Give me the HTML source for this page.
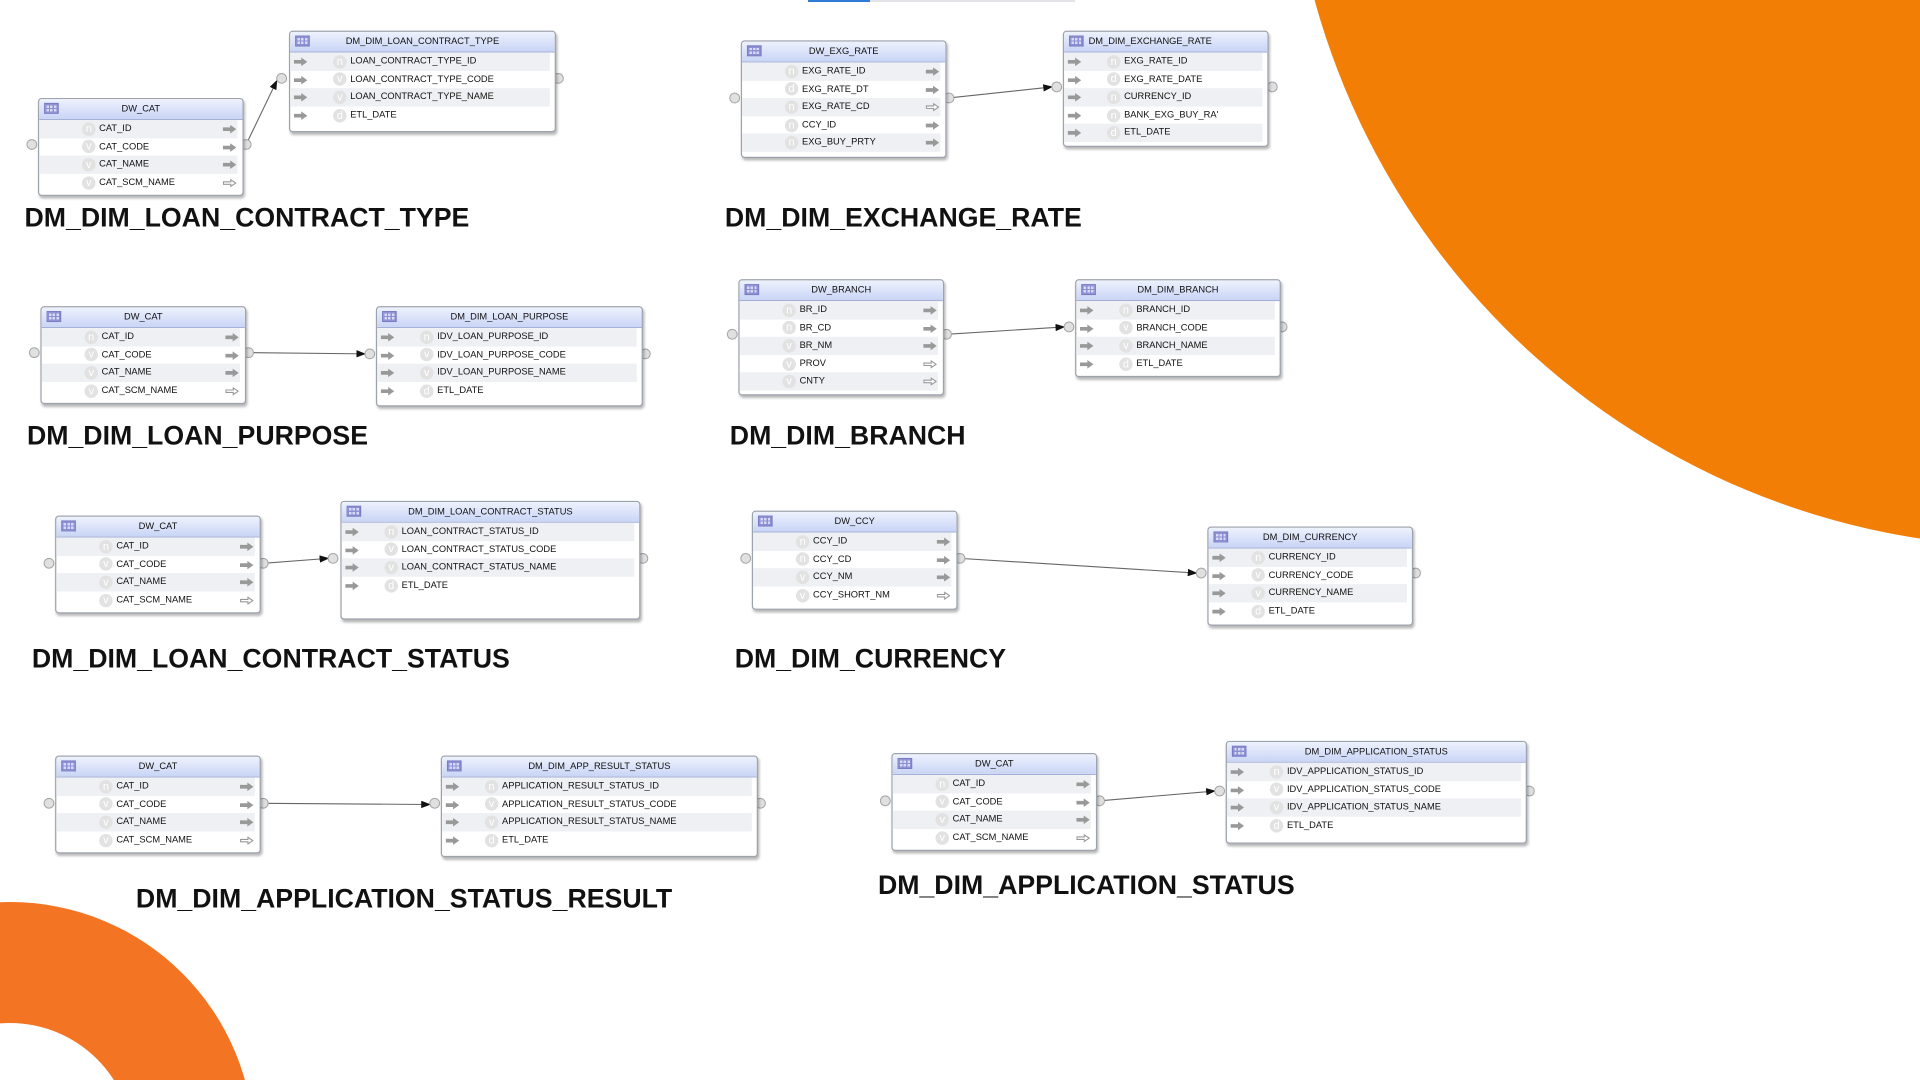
<!DOCTYPE html>
<html><head><meta charset="utf-8"><style>
html,body{margin:0;padding:0;background:#fff;width:1920px;height:1080px;overflow:hidden}
#wrap{position:relative;width:1920px;height:1080px;overflow:hidden}
#bg{position:absolute;left:0;top:0}
#s{position:absolute;left:0;top:0;width:1568px;height:870px;transform:scale(1.22449);transform-origin:0 0;font-family:"Liberation Sans",sans-serif}
.t{position:absolute;background:#fff;border:1px solid #9da3ad;border-radius:3px;box-shadow:1px 2px 2px rgba(0,0,0,.28)}
.h{height:16px;line-height:16px;font-size:7.6px;color:#111;text-align:center;background:linear-gradient(#eef2fd,#c9d5f6);border-bottom:1px solid #a4b0d8;border-radius:3px 3px 0 0;position:relative}
.h i{position:absolute;left:4px;top:3px;width:12px;height:9px;background:
repeating-linear-gradient(90deg,#8d8fd4 0 1px,transparent 1px 3px),repeating-linear-gradient(0deg,#8d8fd4 0 1px,#d8dbf5 1px 3px);border:1px solid #7a7cc4;box-sizing:border-box}
.r{position:relative;height:14.6px;line-height:14.6px;font-size:7.6px;color:#111;margin-right:4px}
.r:nth-child(even){background:#eef0f3}
.r b{position:absolute;top:4px;width:11px;height:7px;font-size:0}
.r b svg{display:block}
.r u{position:absolute;top:1.8px;width:11px;height:11px;border-radius:50%;background:#e2e2e2;color:#fff;text-decoration:none;font-size:9px;line-height:10px;text-align:center}
.r span{position:absolute;white-space:nowrap}
.ti{position:absolute;font-size:21.8px;font-weight:bold;line-height:22px;color:#111;white-space:nowrap}
</style></head><body><div id="wrap">
<svg id="bg" width="1920" height="1080">
<circle cx="2032" cy="-197" r="744" fill="#f37e06"/>
<circle cx="10" cy="1146" r="244" fill="#f37423"/>
<circle cx="10" cy="1146" r="123" fill="#fff"/>
<rect x="808" y="0" width="62" height="2" fill="#2f7bd6"/>
<rect x="870" y="0" width="205" height="2" fill="#e2e4e8"/>
</svg>
<div id="s">
<svg width="1568" height="870" style="position:absolute;left:0;top:0">
<defs><marker id="m" markerWidth="8" markerHeight="6" refX="7" refY="3" orient="auto" markerUnits="userSpaceOnUse"><path d="M0 0L8 3L0 6z" fill="#111"/></marker></defs>
<g stroke="#666" stroke-width="0.9" marker-end="url(#m)">
<line x1="201" y1="118" x2="226" y2="66"/>
<line x1="775" y1="80" x2="859" y2="71"/>
<line x1="203" y1="288" x2="298" y2="289"/>
<line x1="773" y1="273" x2="869" y2="267"/>
<line x1="215" y1="460" x2="268" y2="456"/>
<line x1="784" y1="456" x2="977" y2="468"/>
<line x1="215" y1="656" x2="351" y2="657"/>
<line x1="898" y1="654" x2="992" y2="646"/>
</g>
<g fill="#e0e0e0" stroke="#a5a5a5" stroke-width="0.8">
<circle cx="26" cy="118" r="4"/><circle cx="201" cy="118" r="4"/><circle cx="230" cy="64" r="4"/><circle cx="456" cy="64" r="4"/>
<circle cx="600" cy="80" r="4"/><circle cx="775" cy="80" r="4"/><circle cx="863" cy="71" r="4"/><circle cx="1039" cy="71" r="4"/>
<circle cx="28" cy="288" r="4"/><circle cx="203" cy="288" r="4"/><circle cx="302" cy="289" r="4"/><circle cx="527" cy="289" r="4"/>
<circle cx="598" cy="273" r="4"/><circle cx="773" cy="273" r="4"/><circle cx="873" cy="267" r="4"/><circle cx="1047" cy="267" r="4"/>
<circle cx="40" cy="460" r="4"/><circle cx="215" cy="460" r="4"/><circle cx="272" cy="456" r="4"/><circle cx="525" cy="456" r="4"/>
<circle cx="609" cy="456" r="4"/><circle cx="784" cy="456" r="4"/><circle cx="981" cy="468" r="4"/><circle cx="1156" cy="468" r="4"/>
<circle cx="40" cy="656" r="4"/><circle cx="215" cy="656" r="4"/><circle cx="355" cy="656" r="4"/><circle cx="621" cy="656" r="4"/>
<circle cx="723" cy="654" r="4"/><circle cx="898" cy="654" r="4"/><circle cx="996" cy="646" r="4"/><circle cx="1249" cy="646" r="4"/>
</g>
</svg>

<div class="t" style="left:31px;top:80px;width:166px;height:78px"><div class="h"><i></i>DW_CAT</div>
<div class="r"><u style="left:35px">n</u><span style="left:49px">CAT_ID</span><b style="left:150px"><svg width="11" height="7"><path d="M0 2h6V0l5 3.5-5 3.5V5H0z" fill="#999"/></svg></b></div>
<div class="r"><u style="left:35px">v</u><span style="left:49px">CAT_CODE</span><b style="left:150px"><svg width="11" height="7"><path d="M0 2h6V0l5 3.5-5 3.5V5H0z" fill="#999"/></svg></b></div>
<div class="r"><u style="left:35px">v</u><span style="left:49px">CAT_NAME</span><b style="left:150px"><svg width="11" height="7"><path d="M0 2h6V0l5 3.5-5 3.5V5H0z" fill="#999"/></svg></b></div>
<div class="r"><u style="left:35px">v</u><span style="left:49px">CAT_SCM_NAME</span><b style="left:150px"><svg width="11" height="7"><path d="M.5 2.5h6V.8l4 2.7-4 2.7V4.5h-6z" fill="#fff" stroke="#999" stroke-width=".9"/></svg></b></div>
</div>

<div class="t" style="left:236px;top:25px;width:216px;height:81px"><div class="h"><i></i>DM_DIM_LOAN_CONTRACT_TYPE</div>
<div class="r"><b style="left:3px"><svg width="11" height="7"><path d="M0 2h6V0l5 3.5-5 3.5V5H0z" fill="#999"/></svg></b><u style="left:35px">n</u><span style="left:49px">LOAN_CONTRACT_TYPE_ID</span></div>
<div class="r"><b style="left:3px"><svg width="11" height="7"><path d="M0 2h6V0l5 3.5-5 3.5V5H0z" fill="#999"/></svg></b><u style="left:35px">v</u><span style="left:49px">LOAN_CONTRACT_TYPE_CODE</span></div>
<div class="r"><b style="left:3px"><svg width="11" height="7"><path d="M0 2h6V0l5 3.5-5 3.5V5H0z" fill="#999"/></svg></b><u style="left:35px">v</u><span style="left:49px">LOAN_CONTRACT_TYPE_NAME</span></div>
<div class="r"><b style="left:3px"><svg width="11" height="7"><path d="M0 2h6V0l5 3.5-5 3.5V5H0z" fill="#999"/></svg></b><u style="left:35px">d</u><span style="left:49px">ETL_DATE</span></div>
</div>
<div class="ti" style="left:20px;top:167px">DM_DIM_LOAN_CONTRACT_TYPE</div>

<div class="t" style="left:605px;top:33px;width:166px;height:94px"><div class="h"><i></i>DW_EXG_RATE</div>
<div class="r"><u style="left:35px">n</u><span style="left:49px">EXG_RATE_ID</span><b style="left:150px"><svg width="11" height="7"><path d="M0 2h6V0l5 3.5-5 3.5V5H0z" fill="#999"/></svg></b></div>
<div class="r"><u style="left:35px">d</u><span style="left:49px">EXG_RATE_DT</span><b style="left:150px"><svg width="11" height="7"><path d="M0 2h6V0l5 3.5-5 3.5V5H0z" fill="#999"/></svg></b></div>
<div class="r"><u style="left:35px">n</u><span style="left:49px">EXG_RATE_CD</span><b style="left:150px"><svg width="11" height="7"><path d="M.5 2.5h6V.8l4 2.7-4 2.7V4.5h-6z" fill="#fff" stroke="#999" stroke-width=".9"/></svg></b></div>
<div class="r"><u style="left:35px">n</u><span style="left:49px">CCY_ID</span><b style="left:150px"><svg width="11" height="7"><path d="M0 2h6V0l5 3.5-5 3.5V5H0z" fill="#999"/></svg></b></div>
<div class="r"><u style="left:35px">n</u><span style="left:49px">EXG_BUY_PRTY</span><b style="left:150px"><svg width="11" height="7"><path d="M0 2h6V0l5 3.5-5 3.5V5H0z" fill="#999"/></svg></b></div>
</div>

<div class="t" style="left:868px;top:25px;width:166px;height:93px"><div class="h" style="text-align:left;padding-left:20px">DM_DIM_EXCHANGE_RATE<i></i></div>
<div class="r"><b style="left:3px"><svg width="11" height="7"><path d="M0 2h6V0l5 3.5-5 3.5V5H0z" fill="#999"/></svg></b><u style="left:35px">n</u><span style="left:49px">EXG_RATE_ID</span></div>
<div class="r"><b style="left:3px"><svg width="11" height="7"><path d="M0 2h6V0l5 3.5-5 3.5V5H0z" fill="#999"/></svg></b><u style="left:35px">d</u><span style="left:49px">EXG_RATE_DATE</span></div>
<div class="r"><b style="left:3px"><svg width="11" height="7"><path d="M0 2h6V0l5 3.5-5 3.5V5H0z" fill="#999"/></svg></b><u style="left:35px">n</u><span style="left:49px">CURRENCY_ID</span></div>
<div class="r"><b style="left:3px"><svg width="11" height="7"><path d="M0 2h6V0l5 3.5-5 3.5V5H0z" fill="#999"/></svg></b><u style="left:35px">n</u><span style="left:49px">BANK_EXG_BUY_RA'</span></div>
<div class="r"><b style="left:3px"><svg width="11" height="7"><path d="M0 2h6V0l5 3.5-5 3.5V5H0z" fill="#999"/></svg></b><u style="left:35px">d</u><span style="left:49px">ETL_DATE</span></div>
</div>
<div class="ti" style="left:592px;top:167px">DM_DIM_EXCHANGE_RATE</div>

<div class="t" style="left:33px;top:250px;width:166px;height:78px"><div class="h"><i></i>DW_CAT</div>
<div class="r"><u style="left:35px">n</u><span style="left:49px">CAT_ID</span><b style="left:150px"><svg width="11" height="7"><path d="M0 2h6V0l5 3.5-5 3.5V5H0z" fill="#999"/></svg></b></div>
<div class="r"><u style="left:35px">v</u><span style="left:49px">CAT_CODE</span><b style="left:150px"><svg width="11" height="7"><path d="M0 2h6V0l5 3.5-5 3.5V5H0z" fill="#999"/></svg></b></div>
<div class="r"><u style="left:35px">v</u><span style="left:49px">CAT_NAME</span><b style="left:150px"><svg width="11" height="7"><path d="M0 2h6V0l5 3.5-5 3.5V5H0z" fill="#999"/></svg></b></div>
<div class="r"><u style="left:35px">v</u><span style="left:49px">CAT_SCM_NAME</span><b style="left:150px"><svg width="11" height="7"><path d="M.5 2.5h6V.8l4 2.7-4 2.7V4.5h-6z" fill="#fff" stroke="#999" stroke-width=".9"/></svg></b></div>
</div>

<div class="t" style="left:307px;top:250px;width:216px;height:80px"><div class="h"><i></i>DM_DIM_LOAN_PURPOSE</div>
<div class="r"><b style="left:3px"><svg width="11" height="7"><path d="M0 2h6V0l5 3.5-5 3.5V5H0z" fill="#999"/></svg></b><u style="left:35px">n</u><span style="left:49px">IDV_LOAN_PURPOSE_ID</span></div>
<div class="r"><b style="left:3px"><svg width="11" height="7"><path d="M0 2h6V0l5 3.5-5 3.5V5H0z" fill="#999"/></svg></b><u style="left:35px">v</u><span style="left:49px">IDV_LOAN_PURPOSE_CODE</span></div>
<div class="r"><b style="left:3px"><svg width="11" height="7"><path d="M0 2h6V0l5 3.5-5 3.5V5H0z" fill="#999"/></svg></b><u style="left:35px">v</u><span style="left:49px">IDV_LOAN_PURPOSE_NAME</span></div>
<div class="r"><b style="left:3px"><svg width="11" height="7"><path d="M0 2h6V0l5 3.5-5 3.5V5H0z" fill="#999"/></svg></b><u style="left:35px">d</u><span style="left:49px">ETL_DATE</span></div>
</div>
<div class="ti" style="left:22px;top:345px">DM_DIM_LOAN_PURPOSE</div>

<div class="t" style="left:603px;top:228px;width:166px;height:93px"><div class="h"><i></i>DW_BRANCH</div>
<div class="r"><u style="left:35px">n</u><span style="left:49px">BR_ID</span><b style="left:150px"><svg width="11" height="7"><path d="M0 2h6V0l5 3.5-5 3.5V5H0z" fill="#999"/></svg></b></div>
<div class="r"><u style="left:35px">n</u><span style="left:49px">BR_CD</span><b style="left:150px"><svg width="11" height="7"><path d="M0 2h6V0l5 3.5-5 3.5V5H0z" fill="#999"/></svg></b></div>
<div class="r"><u style="left:35px">v</u><span style="left:49px">BR_NM</span><b style="left:150px"><svg width="11" height="7"><path d="M0 2h6V0l5 3.5-5 3.5V5H0z" fill="#999"/></svg></b></div>
<div class="r"><u style="left:35px">v</u><span style="left:49px">PROV</span><b style="left:150px"><svg width="11" height="7"><path d="M.5 2.5h6V.8l4 2.7-4 2.7V4.5h-6z" fill="#fff" stroke="#999" stroke-width=".9"/></svg></b></div>
<div class="r"><u style="left:35px">v</u><span style="left:49px">CNTY</span><b style="left:150px"><svg width="11" height="7"><path d="M.5 2.5h6V.8l4 2.7-4 2.7V4.5h-6z" fill="#fff" stroke="#999" stroke-width=".9"/></svg></b></div>
</div>

<div class="t" style="left:878px;top:228px;width:166px;height:78px"><div class="h"><i></i>DM_DIM_BRANCH</div>
<div class="r"><b style="left:3px"><svg width="11" height="7"><path d="M0 2h6V0l5 3.5-5 3.5V5H0z" fill="#999"/></svg></b><u style="left:35px">n</u><span style="left:49px">BRANCH_ID</span></div>
<div class="r"><b style="left:3px"><svg width="11" height="7"><path d="M0 2h6V0l5 3.5-5 3.5V5H0z" fill="#999"/></svg></b><u style="left:35px">v</u><span style="left:49px">BRANCH_CODE</span></div>
<div class="r"><b style="left:3px"><svg width="11" height="7"><path d="M0 2h6V0l5 3.5-5 3.5V5H0z" fill="#999"/></svg></b><u style="left:35px">v</u><span style="left:49px">BRANCH_NAME</span></div>
<div class="r"><b style="left:3px"><svg width="11" height="7"><path d="M0 2h6V0l5 3.5-5 3.5V5H0z" fill="#999"/></svg></b><u style="left:35px">d</u><span style="left:49px">ETL_DATE</span></div>
</div>
<div class="ti" style="left:596px;top:345px">DM_DIM_BRANCH</div>

<div class="t" style="left:45px;top:421px;width:166px;height:78px"><div class="h"><i></i>DW_CAT</div>
<div class="r"><u style="left:35px">n</u><span style="left:49px">CAT_ID</span><b style="left:150px"><svg width="11" height="7"><path d="M0 2h6V0l5 3.5-5 3.5V5H0z" fill="#999"/></svg></b></div>
<div class="r"><u style="left:35px">v</u><span style="left:49px">CAT_CODE</span><b style="left:150px"><svg width="11" height="7"><path d="M0 2h6V0l5 3.5-5 3.5V5H0z" fill="#999"/></svg></b></div>
<div class="r"><u style="left:35px">v</u><span style="left:49px">CAT_NAME</span><b style="left:150px"><svg width="11" height="7"><path d="M0 2h6V0l5 3.5-5 3.5V5H0z" fill="#999"/></svg></b></div>
<div class="r"><u style="left:35px">v</u><span style="left:49px">CAT_SCM_NAME</span><b style="left:150px"><svg width="11" height="7"><path d="M.5 2.5h6V.8l4 2.7-4 2.7V4.5h-6z" fill="#fff" stroke="#999" stroke-width=".9"/></svg></b></div>
</div>

<div class="t" style="left:278px;top:409px;width:243px;height:95px"><div class="h"><i></i>DM_DIM_LOAN_CONTRACT_STATUS</div>
<div class="r"><b style="left:3px"><svg width="11" height="7"><path d="M0 2h6V0l5 3.5-5 3.5V5H0z" fill="#999"/></svg></b><u style="left:35px">n</u><span style="left:49px">LOAN_CONTRACT_STATUS_ID</span></div>
<div class="r"><b style="left:3px"><svg width="11" height="7"><path d="M0 2h6V0l5 3.5-5 3.5V5H0z" fill="#999"/></svg></b><u style="left:35px">v</u><span style="left:49px">LOAN_CONTRACT_STATUS_CODE</span></div>
<div class="r"><b style="left:3px"><svg width="11" height="7"><path d="M0 2h6V0l5 3.5-5 3.5V5H0z" fill="#999"/></svg></b><u style="left:35px">v</u><span style="left:49px">LOAN_CONTRACT_STATUS_NAME</span></div>
<div class="r"><b style="left:3px"><svg width="11" height="7"><path d="M0 2h6V0l5 3.5-5 3.5V5H0z" fill="#999"/></svg></b><u style="left:35px">d</u><span style="left:49px">ETL_DATE</span></div>
</div>
<div class="ti" style="left:26px;top:527px">DM_DIM_LOAN_CONTRACT_STATUS</div>

<div class="t" style="left:614px;top:417px;width:166px;height:79px"><div class="h"><i></i>DW_CCY</div>
<div class="r"><u style="left:35px">n</u><span style="left:49px">CCY_ID</span><b style="left:150px"><svg width="11" height="7"><path d="M0 2h6V0l5 3.5-5 3.5V5H0z" fill="#999"/></svg></b></div>
<div class="r"><u style="left:35px">n</u><span style="left:49px">CCY_CD</span><b style="left:150px"><svg width="11" height="7"><path d="M0 2h6V0l5 3.5-5 3.5V5H0z" fill="#999"/></svg></b></div>
<div class="r"><u style="left:35px">v</u><span style="left:49px">CCY_NM</span><b style="left:150px"><svg width="11" height="7"><path d="M0 2h6V0l5 3.5-5 3.5V5H0z" fill="#999"/></svg></b></div>
<div class="r"><u style="left:35px">v</u><span style="left:49px">CCY_SHORT_NM</span><b style="left:150px"><svg width="11" height="7"><path d="M.5 2.5h6V.8l4 2.7-4 2.7V4.5h-6z" fill="#fff" stroke="#999" stroke-width=".9"/></svg></b></div>
</div>

<div class="t" style="left:986px;top:430px;width:166px;height:79px"><div class="h"><i></i>DM_DIM_CURRENCY</div>
<div class="r"><b style="left:3px"><svg width="11" height="7"><path d="M0 2h6V0l5 3.5-5 3.5V5H0z" fill="#999"/></svg></b><u style="left:35px">n</u><span style="left:49px">CURRENCY_ID</span></div>
<div class="r"><b style="left:3px"><svg width="11" height="7"><path d="M0 2h6V0l5 3.5-5 3.5V5H0z" fill="#999"/></svg></b><u style="left:35px">v</u><span style="left:49px">CURRENCY_CODE</span></div>
<div class="r"><b style="left:3px"><svg width="11" height="7"><path d="M0 2h6V0l5 3.5-5 3.5V5H0z" fill="#999"/></svg></b><u style="left:35px">v</u><span style="left:49px">CURRENCY_NAME</span></div>
<div class="r"><b style="left:3px"><svg width="11" height="7"><path d="M0 2h6V0l5 3.5-5 3.5V5H0z" fill="#999"/></svg></b><u style="left:35px">d</u><span style="left:49px">ETL_DATE</span></div>
</div>
<div class="ti" style="left:600px;top:527px">DM_DIM_CURRENCY</div>

<div class="t" style="left:45px;top:617px;width:166px;height:78px"><div class="h"><i></i>DW_CAT</div>
<div class="r"><u style="left:35px">n</u><span style="left:49px">CAT_ID</span><b style="left:150px"><svg width="11" height="7"><path d="M0 2h6V0l5 3.5-5 3.5V5H0z" fill="#999"/></svg></b></div>
<div class="r"><u style="left:35px">v</u><span style="left:49px">CAT_CODE</span><b style="left:150px"><svg width="11" height="7"><path d="M0 2h6V0l5 3.5-5 3.5V5H0z" fill="#999"/></svg></b></div>
<div class="r"><u style="left:35px">v</u><span style="left:49px">CAT_NAME</span><b style="left:150px"><svg width="11" height="7"><path d="M0 2h6V0l5 3.5-5 3.5V5H0z" fill="#999"/></svg></b></div>
<div class="r"><u style="left:35px">v</u><span style="left:49px">CAT_SCM_NAME</span><b style="left:150px"><svg width="11" height="7"><path d="M.5 2.5h6V.8l4 2.7-4 2.7V4.5h-6z" fill="#fff" stroke="#999" stroke-width=".9"/></svg></b></div>
</div>

<div class="t" style="left:360px;top:617px;width:257px;height:81px"><div class="h"><i></i>DM_DIM_APP_RESULT_STATUS</div>
<div class="r"><b style="left:3px"><svg width="11" height="7"><path d="M0 2h6V0l5 3.5-5 3.5V5H0z" fill="#999"/></svg></b><u style="left:35px">n</u><span style="left:49px">APPLICATION_RESULT_STATUS_ID</span></div>
<div class="r"><b style="left:3px"><svg width="11" height="7"><path d="M0 2h6V0l5 3.5-5 3.5V5H0z" fill="#999"/></svg></b><u style="left:35px">v</u><span style="left:49px">APPLICATION_RESULT_STATUS_CODE</span></div>
<div class="r"><b style="left:3px"><svg width="11" height="7"><path d="M0 2h6V0l5 3.5-5 3.5V5H0z" fill="#999"/></svg></b><u style="left:35px">v</u><span style="left:49px">APPLICATION_RESULT_STATUS_NAME</span></div>
<div class="r"><b style="left:3px"><svg width="11" height="7"><path d="M0 2h6V0l5 3.5-5 3.5V5H0z" fill="#999"/></svg></b><u style="left:35px">d</u><span style="left:49px">ETL_DATE</span></div>
</div>
<div class="ti" style="left:111px;top:723px">DM_DIM_APPLICATION_STATUS_RESULT</div>

<div class="t" style="left:728px;top:615px;width:166px;height:78px"><div class="h"><i></i>DW_CAT</div>
<div class="r"><u style="left:35px">n</u><span style="left:49px">CAT_ID</span><b style="left:150px"><svg width="11" height="7"><path d="M0 2h6V0l5 3.5-5 3.5V5H0z" fill="#999"/></svg></b></div>
<div class="r"><u style="left:35px">v</u><span style="left:49px">CAT_CODE</span><b style="left:150px"><svg width="11" height="7"><path d="M0 2h6V0l5 3.5-5 3.5V5H0z" fill="#999"/></svg></b></div>
<div class="r"><u style="left:35px">v</u><span style="left:49px">CAT_NAME</span><b style="left:150px"><svg width="11" height="7"><path d="M0 2h6V0l5 3.5-5 3.5V5H0z" fill="#999"/></svg></b></div>
<div class="r"><u style="left:35px">v</u><span style="left:49px">CAT_SCM_NAME</span><b style="left:150px"><svg width="11" height="7"><path d="M.5 2.5h6V.8l4 2.7-4 2.7V4.5h-6z" fill="#fff" stroke="#999" stroke-width=".9"/></svg></b></div>
</div>

<div class="t" style="left:1001px;top:605px;width:244px;height:82px"><div class="h"><i></i>DM_DIM_APPLICATION_STATUS</div>
<div class="r"><b style="left:3px"><svg width="11" height="7"><path d="M0 2h6V0l5 3.5-5 3.5V5H0z" fill="#999"/></svg></b><u style="left:35px">n</u><span style="left:49px">IDV_APPLICATION_STATUS_ID</span></div>
<div class="r"><b style="left:3px"><svg width="11" height="7"><path d="M0 2h6V0l5 3.5-5 3.5V5H0z" fill="#999"/></svg></b><u style="left:35px">v</u><span style="left:49px">IDV_APPLICATION_STATUS_CODE</span></div>
<div class="r"><b style="left:3px"><svg width="11" height="7"><path d="M0 2h6V0l5 3.5-5 3.5V5H0z" fill="#999"/></svg></b><u style="left:35px">v</u><span style="left:49px">IDV_APPLICATION_STATUS_NAME</span></div>
<div class="r"><b style="left:3px"><svg width="11" height="7"><path d="M0 2h6V0l5 3.5-5 3.5V5H0z" fill="#999"/></svg></b><u style="left:35px">d</u><span style="left:49px">ETL_DATE</span></div>
</div>
<div class="ti" style="left:717px;top:712px">DM_DIM_APPLICATION_STATUS</div>
</div>
</div></body></html>
